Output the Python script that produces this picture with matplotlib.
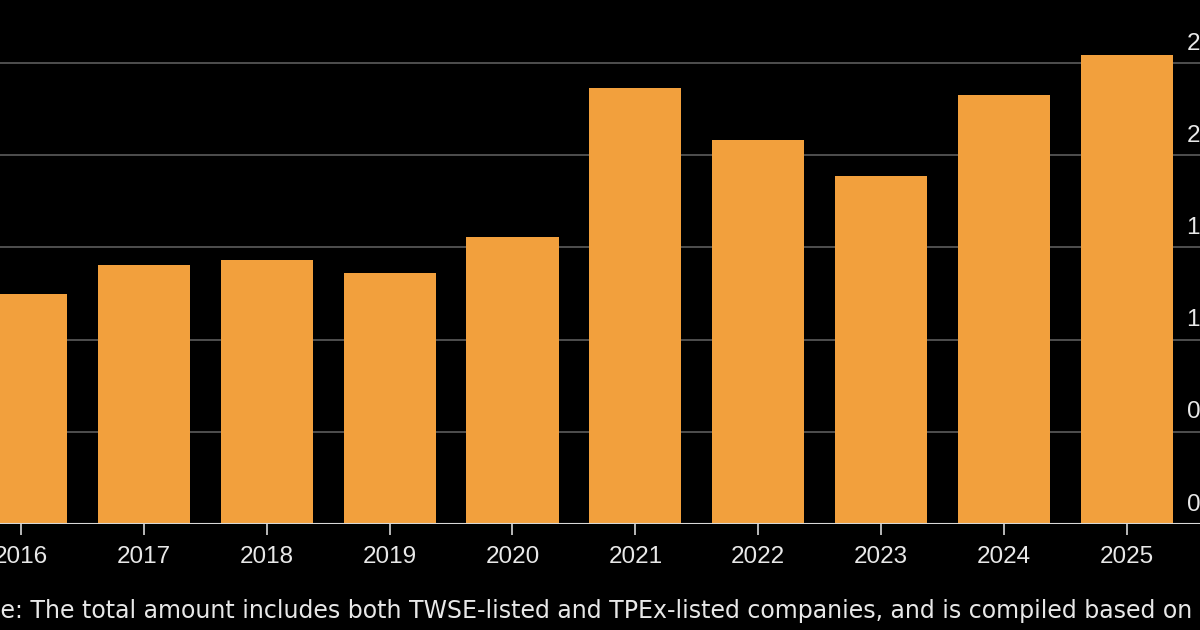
import numpy as np
import matplotlib
matplotlib.use("Agg")
import matplotlib.pyplot as plt
from matplotlib.transforms import ScaledTranslation

# Data (values in the chart's y units)
years = ["2016", "2017", "2018", "2019", "2020", "2021", "2022", "2023", "2024", "2025"]
values = [1.247, 1.405, 1.432, 1.361, 1.556, 2.364, 2.082, 1.887, 2.326, 2.543]
ytick_vals = [0, 0.5, 1.0, 1.5, 2.0, 2.5]
ytick_labels = ["0", "0.5", "1.0", "1.5", "2.0", "2.5"]
note = ("Note: The total amount includes both TWSE-listed and TPEx-listed companies, "
        "and is compiled based on")

bar_color = "#f2a03d"
text_color = "#e8e8e8"
grid_color = "#5c5c5c"

plt.rcParams["font.family"] = ["Liberation Sans", "DejaVu Sans"]

W, H = 1200, 630
fig = plt.figure(figsize=(W / 100, H / 100), dpi=100, facecolor="black")

# axes placed in pixels; the picture is a crop, so the axes run past the edges
left_px, width_px = -71.2, 1321.0
bottom_px, height_px = 106.0, 507.1
ax = fig.add_axes([left_px / W, bottom_px / H, width_px / W, height_px / H])
ax.set_facecolor("black")

x = np.arange(len(years))
ax.bar(x, values, width=0.75, color=bar_color, zorder=2)

ax.set_xlim(-0.75, 10.0)
ax.set_ylim(0, 2.75)

# gridlines
ax.set_yticks(ytick_vals)
ax.set_yticklabels(ytick_labels)
ax.grid(axis="y", color=grid_color, linewidth=1.2, zorder=0)
ax.axhline(0, color="#d8d8d8", linewidth=1.5, zorder=3)

for s in ax.spines.values():
    s.set_visible(False)

# y labels sit inside, above the gridlines at the right
ax.yaxis.tick_right()
ax.tick_params(axis="y", length=0, pad=-45.5, labelsize=17.5, labelcolor=text_color)
for lab in ax.get_yticklabels():
    lab.set_verticalalignment("bottom")
    lab.set_transform(lab.get_transform() + ScaledTranslation(0, 6 / 72, fig.dpi_scale_trans))

ax.set_xticks(x)
ax.set_xticklabels(years)
ax.tick_params(axis="x", length=8, width=1.2, color="#d8d8d8", pad=8,
               labelsize=17.5, labelcolor=text_color)

# footnote, cut at the left edge like the reference crop
fig.text(-41 / W, 7 / H, note, color=text_color, fontsize=17.0, ha="left", va="bottom",
         family="DejaVu Sans")

fig.savefig("out.png", dpi=100, facecolor="black")
